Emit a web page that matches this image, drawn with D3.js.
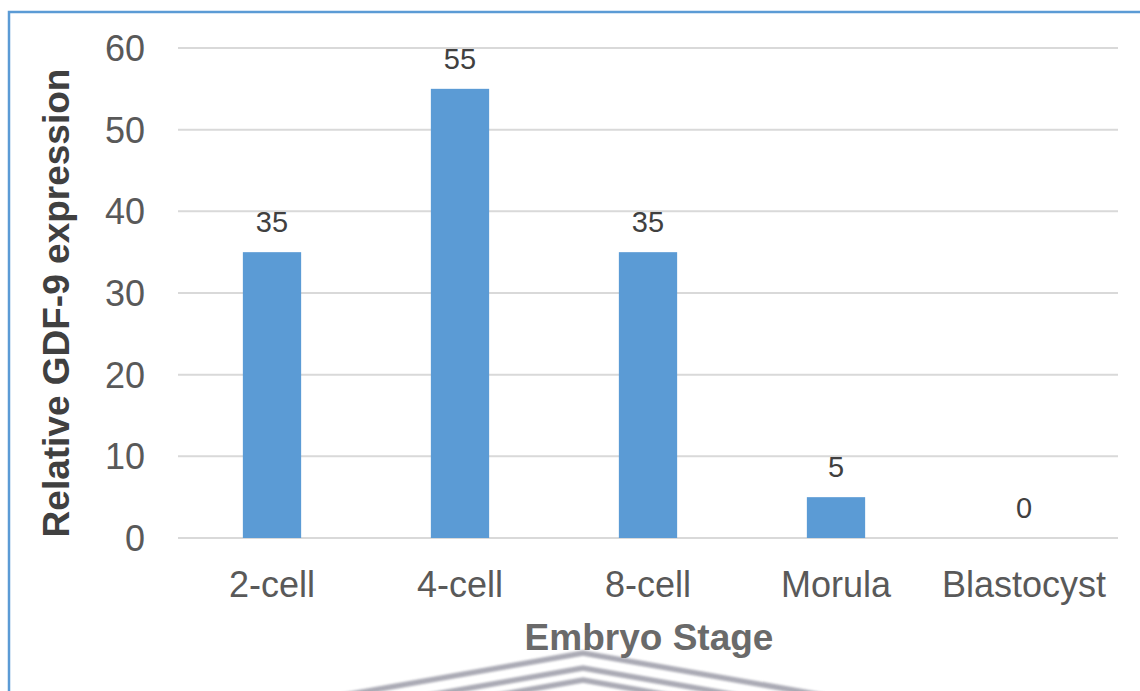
<!DOCTYPE html>
<html>
<head>
<meta charset="utf-8">
<script src="https://cdn.jsdelivr.net/npm/d3@7"></script>
<style>
  body { margin: 0; background: #fff; }
  text { font-family: "Liberation Sans", Arial, sans-serif; }
</style>
</head>
<body>
<div id="chart"></div>
<script>
// data
const stages = ["2-cell", "4-cell", "8-cell", "Morula", "Blastocyst"];
const expression = [35, 55, 35, 5, 0];
const yTicks = [0, 10, 20, 30, 40, 50, 60];

const W = 1140, H = 691;
const plot = {left: 178, right: 1118, top: 48, bottom: 538};

const svg = d3.select("#chart").append("svg")
    .attr("width", W)
    .attr("height", H);

const defs = svg.append("defs");
defs.append("filter").attr("id", "soft")
    .append("feGaussianBlur").attr("stdDeviation", 1.2);

// frame round the figure (cut off at right/bottom)
svg.append("rect")
    .attr("x", 9).attr("y", 12)
    .attr("width", W + 20).attr("height", H + 20)
    .attr("fill", "none")
    .attr("stroke", "#5b9bd5")
    .attr("stroke-width", 2.5);

const x = d3.scaleBand()
    .domain(stages)
    .range([plot.left, plot.right])
    .paddingInner(0.69)
    .paddingOuter(0.345);

const y = d3.scaleLinear()
    .domain([0, 60])
    .range([plot.bottom, plot.top]);

// gridlines
svg.append("g")
    .selectAll("line")
    .data(yTicks)
    .join("line")
    .attr("x1", plot.left).attr("x2", plot.right)
    .attr("y1", d => y(d)).attr("y2", d => y(d))
    .attr("stroke", "#d9d9d9")
    .attr("stroke-width", 2);

// y tick labels
svg.append("g")
    .selectAll("text")
    .data(yTicks)
    .join("text")
    .attr("x", 145)
    .attr("y", d => y(d))
    .attr("dy", "0.36em")
    .attr("text-anchor", "end")
    .attr("fill", "#595959")
    .style("font-size", "36px")
    .text(d => d);

// bars
const rows = stages.map((s, i) => ({stage: s, value: expression[i]}));
svg.append("g")
    .selectAll("rect")
    .data(rows)
    .join("rect")
    .attr("x", d => x(d.stage))
    .attr("y", d => y(d.value))
    .attr("width", x.bandwidth())
    .attr("height", d => y(0) - y(d.value))
    .attr("fill", "#5b9bd5");

// value labels
svg.append("g")
    .selectAll("text")
    .data(rows)
    .join("text")
    .attr("x", d => x(d.stage) + x.bandwidth() / 2)
    .attr("y", d => y(d.value) - 20)
    .attr("text-anchor", "middle")
    .attr("fill", "#404040")
    .style("font-size", "29px")
    .text(d => d.value);

// x category labels
svg.append("g")
    .selectAll("text")
    .data(stages)
    .join("text")
    .attr("x", d => x(d) + x.bandwidth() / 2)
    .attr("y", 597)
    .attr("text-anchor", "middle")
    .attr("fill", "#595959")
    .style("font-size", "36px")
    .text(d => d);

// watermark chevrons behind the axis title
const chev = svg.append("g").attr("fill", "none")
    .attr("stroke", "#9c9ca8").attr("stroke-width", 5.5)
    .attr("opacity", 0.85)
    .attr("filter", "url(#soft)");
[0, 15, 27].forEach(off => {
    chev.append("path")
        .attr("d", `M283,${706 + off} L583,${653 + off} L883,${706 + off}`);
});

// axis titles
svg.append("text")
    .attr("x", 649).attr("y", 650)
    .attr("text-anchor", "middle")
    .attr("fill", "#6a6a6a")
    .style("font-size", "37px")
    .style("font-weight", "bold")
    .text("Embryo Stage");

svg.append("text")
    .attr("transform", "translate(69,303) rotate(-90)")
    .attr("text-anchor", "middle")
    .attr("fill", "#404040")
    .style("font-size", "37px")
    .style("font-weight", "bold")
    .text("Relative GDF-9 expression");
</script>
</body>
</html>
